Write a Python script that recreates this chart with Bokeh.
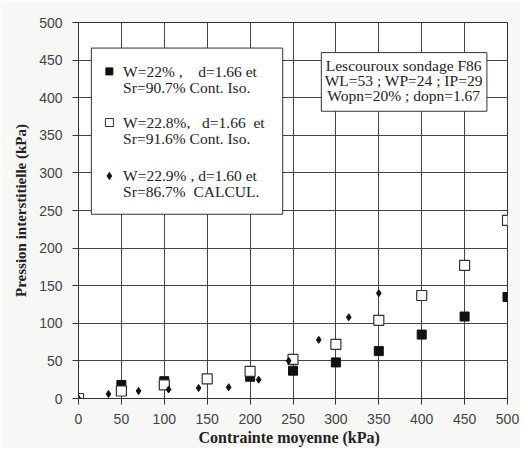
from bokeh.plotting import figure
from bokeh.models import Range1d, FixedTicker, Title
from bokeh.core.properties import value
from bokeh.embed import file_html
from bokeh.resources import INLINE

# Data
x_s1 = [0, 50, 100, 200, 250, 300, 350, 400, 450, 500]
y_s1 = [0, 18, 23, 29, 37, 48, 63, 85, 109, 135]

x_s2 = [0, 50, 100, 150, 200, 250, 300, 350, 400, 450, 500]
y_s2 = [0, 10, 18, 26, 36, 52, 72, 104, 137, 177, 237]

x_s3 = [0, 35, 70, 105, 140, 175, 210, 245, 280, 315, 350]
y_s3 = [0, 6, 10, 12, 14, 15, 25, 50, 78, 108, 140]

NB = "\u00a0"
legend_lines = [
    ["W=22%" + NB + "," + NB * 4 + "d=1.66" + NB + "et", "Sr=90.7% Cont. Iso."],
    ["W=22.8%," + NB * 3 + "d=1.66" + NB * 2 + "et", "Sr=91.6% Cont. Iso."],
    ["W=22.9%" + NB + "," + NB + "d=1.60" + NB + "et", "Sr=86.7%" + NB * 2 + "CALCUL."],
]
info_lines = ["Lescouroux sondage F86", "WL=53 ; WP=24 ; IP=29", "Wopn=20% ; dopn=1.67"]
ticks = [0, 50, 100, 150, 200, 250, 300, 350, 400, 450, 500]

SERIF = "Liberation Serif"
SANS = "Liberation Sans"

p = figure(width=520, height=448, output_backend="svg", toolbar_location=None,
           x_range=Range1d(0, 500), y_range=Range1d(0, 500),
           min_border_left=78, min_border_right=13, min_border_top=22, min_border_bottom=50)
p.background_fill_color = "white"
p.border_fill_color = "#f7f7f5"
p.outline_line_color = "#333333"
p.outline_line_width = 1

for ax in (p.xaxis[0], p.yaxis[0]):
    ax.ticker = FixedTicker(ticks=ticks)
    ax.major_label_text_font = SANS
    ax.major_label_text_font_size = "14px"
    ax.major_label_text_color = "#444444"
    ax.major_tick_out = 6
    ax.major_tick_in = 0
    ax.minor_tick_out = 0
    ax.minor_tick_in = 0
    ax.axis_line_color = "#333333"
    ax.major_tick_line_color = "#333333"

p.xaxis.major_label_standoff = 9
p.yaxis.major_label_standoff = 10

p.yaxis.axis_label = "Pression interstitielle (kPa)"
p.yaxis.axis_label_text_font = SERIF
p.yaxis.axis_label_text_font_style = "bold"
p.yaxis.axis_label_text_font_size = "15px"
p.yaxis.axis_label_text_color = "#222222"
p.yaxis.axis_label_standoff = 7

xt = Title(text="Contrainte moyenne (kPa)", align="left", offset=120,
           text_font=SERIF, text_font_style="bold", text_font_size="16px",
           text_color="#222222", standoff=0)
p.add_layout(xt, "below")

p.xgrid.grid_line_color = "#444444"
p.ygrid.grid_line_color = "#444444"
p.xgrid.grid_line_width = 1
p.ygrid.grid_line_width = 1

# Legend box
p.quad(left=[15], right=[238], bottom=[245], top=[466], fill_color="white",
       line_color="#333333", line_width=1)
# Info box
p.quad(left=[283], right=[476], bottom=[382], top=[460], fill_color="white",
       line_color="#333333", line_width=1)

# Data series
p.scatter(x_s1, y_s1, marker="square", size=9, fill_color="#111111", line_color="#111111")
p.scatter(x_s2, y_s2, marker="square", size=10, fill_color="white", line_color="#333333", line_width=1.2)
p.scatter(x_s3, y_s3, marker="diamond", size=7, fill_color="#111111", line_color="#111111")

# Legend contents
mk_y = [435, 367, 296]
p.scatter([36], [mk_y[0]], marker="square", size=7, fill_color="#111111", line_color="#111111")
p.scatter([36], [mk_y[1]], marker="square", size=8, fill_color="white", line_color="#333333")
p.scatter([36], [mk_y[2]], marker="diamond", size=7, fill_color="#111111", line_color="#111111")

lx, ly, lt = [], [], []
for i, lines in enumerate(legend_lines):
    for j, t in enumerate(lines):
        lx.append(52)
        ly.append(mk_y[i] - j * 21)
        lt.append(t)
p.text(x=lx, y=ly, text=lt, text_font=value(SERIF), text_font_size="15.5px",
       text_color="#222222", text_baseline="middle", text_align="left")

p.text(x=[379, 379, 379], y=[443, 423, 403], text=info_lines, text_font=value(SERIF),
       text_font_size="15.5px", text_color="#222222", text_baseline="middle", text_align="center")

open("out.html", "w").write(file_html(p, INLINE))
